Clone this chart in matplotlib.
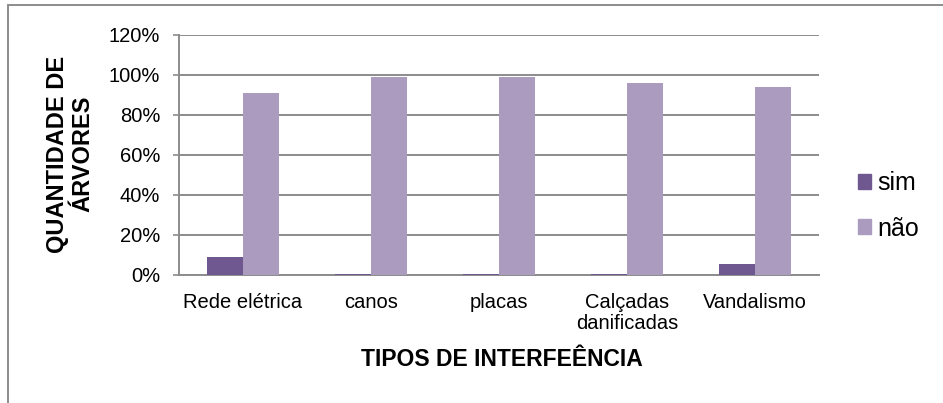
import numpy as np
import matplotlib
matplotlib.use('Agg')
import matplotlib.pyplot as plt
from matplotlib.patches import Patch, Rectangle

plt.rcParams['font.family'] = ['Liberation Sans', 'DejaVu Sans']

categorias = ['Rede elétrica', 'canos', 'placas', 'Calçadas\ndanificadas', 'Vandalismo']
sim = [9.0, 0.5, 0.7, 0.7, 5.3]
nao = [90.8, 99.2, 99.0, 96.2, 94.2]
yticks = [0, 20, 40, 60, 80, 100, 120]

cor_sim = '#6f5890'
cor_nao = '#aa9bbf'
cinza = '#8c8c8c'

fig = plt.figure(figsize=(9.43, 4.03), dpi=100)
ax = fig.add_axes([179/943, 1 - 275/403, 640/943, 240/403])

x = np.arange(len(categorias))
w = 0.28
ax.bar(x - w/2, sim, w, color=cor_sim, zorder=3)
ax.bar(x + w/2, nao, w, color=cor_nao, zorder=3)

ax.set_xlim(-0.5, len(categorias) - 0.5)
ax.set_ylim(0, 120)
ax.set_yticks(yticks)
ax.set_yticklabels([f'{v}%' for v in yticks])
ax.set_xticks(x)
ax.set_xticklabels(categorias, linespacing=1.1)
ax.yaxis.grid(True, color=cinza, linewidth=1.4, zorder=0)
ax.set_axisbelow(True)

for s in ['top', 'right']:
    ax.spines[s].set_visible(False)
for s in ['left', 'bottom']:
    ax.spines[s].set_color(cinza)
    ax.spines[s].set_linewidth(1.4)

ax.tick_params(axis='y', length=4.5, width=1.2, color=cinza, pad=9, labelsize=14.5)
ax.tick_params(axis='x', length=0, pad=13, labelsize=14.5)

fig.text(502/943, 1 - 366/403, 'TIPOS DE INTERFEÊNCIA', fontsize=16.5,
         fontweight='bold', ha='center', va='baseline')
fig.text(70/943, 1 - 154/403, 'QUANTIDADE DE\nÁRVORES', fontsize=17,
         fontweight='bold', rotation=90, ha='center', va='center',
         multialignment='center', linespacing=1.15)

handles = [Patch(color=cor_sim, label='sim'), Patch(color=cor_nao, label='não')]
fig.legend(handles=handles, loc='center left', bbox_to_anchor=(858/943, 1 - 206/403),
           frameon=False, fontsize=18, handlelength=0.52, handleheight=0.52,
           handletextpad=0.25, labelspacing=0.85, borderpad=0, borderaxespad=0)

# moldura externa do gráfico
fig.patches.append(Rectangle((8/943, -0.05), 1.0, 1 - 5/403 + 0.05, transform=fig.transFigure,
                             fill=False, edgecolor=cinza, linewidth=1.4))

fig.savefig('out.png', dpi=100)
